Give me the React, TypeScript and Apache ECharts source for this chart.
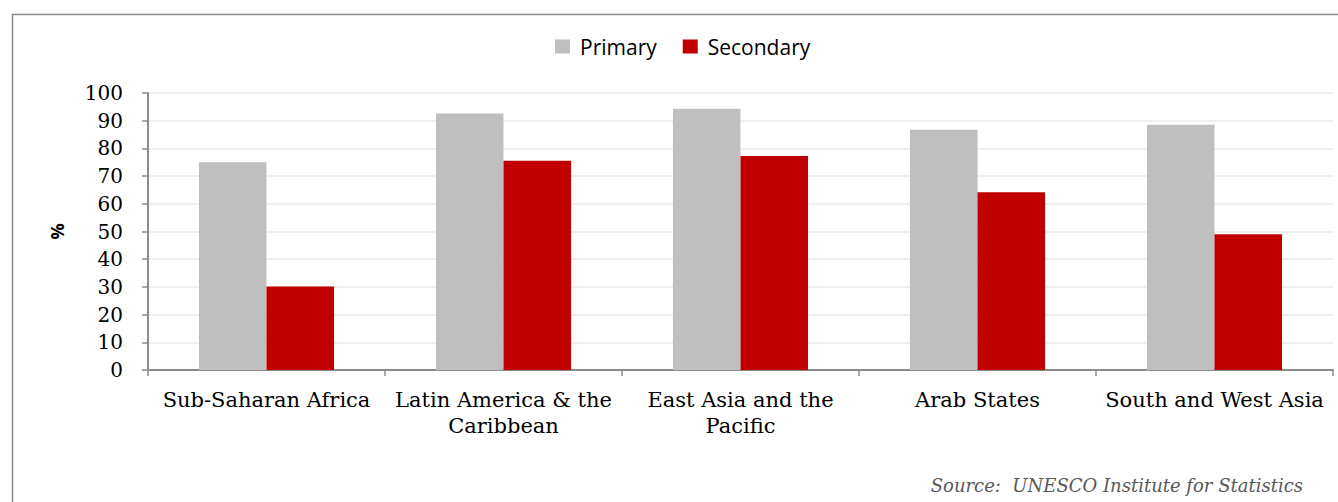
import React, { useEffect, useRef } from "react";
import * as echarts from "echarts";

const regions = [
  "Sub-Saharan Africa",
  "Latin America & the\nCaribbean",
  "East Asia and the\nPacific",
  "Arab States",
  "South and West Asia",
];
const primary = [75, 92.6, 94.3, 86.7, 88.5];
const secondary = [30.1, 75.5, 77.3, 64.2, 49];
const yTicks = [0, 10, 20, 30, 40, 50, 60, 70, 80, 90, 100];
const sourceNote = "Source:  UNESCO Institute for Statistics";

const serif = "'DejaVu Serif', 'Liberation Serif', serif";
const sans = "'Open Sans', 'Noto Sans', sans-serif";

export default function App() {
  const ref = useRef<HTMLDivElement>(null);

  useEffect(() => {
    document.body.style.margin = "0";
    if (!ref.current) return;
    const chart = echarts.init(ref.current, undefined, { renderer: "svg" });
    chart.setOption({
      animation: false,
      backgroundColor: "#ffffff",
      graphic: [
        {
          type: "rect",
          shape: { x: 12.5, y: 14.5, width: 1400, height: 600 },
          style: { fill: "none", stroke: "#8c8c8c", lineWidth: 1.5 },
          silent: true,
        },
        {
          type: "text",
          right: 35,
          top: 476,
          style: {
            text: sourceNote,
            font: `italic 18px ${serif}`,
            fill: "#595959",
          },
        },
      ],
      legend: {
        top: 31,
        left: 550,
        itemWidth: 15,
        itemHeight: 14,
        itemGap: 26,
        icon: "rect",
        textStyle: { fontFamily: sans, fontSize: 21, color: "#000", padding: [0, 0, 0, 5] },
        data: ["Primary", "Secondary"],
      },
      grid: { left: 148, right: 5, top: 93, bottom: 132, containLabel: false },
      xAxis: {
        type: "category",
        data: regions,
        axisLine: { lineStyle: { color: "#8c8c8c", width: 2 } },
        axisTick: { show: true, length: 6, lineStyle: { color: "#8c8c8c", width: 1.5 } },
        axisLabel: {
          interval: 0,
          margin: 17,
          fontFamily: serif,
          fontSize: 21,
          lineHeight: 26,
          color: "#000",
        },
      },
      yAxis: {
        type: "value",
        min: yTicks[0],
        max: yTicks[yTicks.length - 1],
        interval: 10,
        name: "%",
        nameLocation: "middle",
        nameGap: 82,
        nameRotate: 90,
        nameTextStyle: { fontFamily: sans, fontWeight: "bold", fontSize: 18, color: "#000" },
        axisLine: { show: true, lineStyle: { color: "#8c8c8c", width: 2 } },
        axisTick: { show: true, length: 6, lineStyle: { color: "#8c8c8c", width: 1.5 } },
        axisLabel: { fontFamily: serif, fontSize: 20, color: "#000", margin: 25 },
        splitLine: { lineStyle: { color: "#efefef", width: 2 } },
      },
      series: [
        {
          name: "Primary",
          type: "bar",
          data: primary,
          barGap: "0%",
          barCategoryGap: "43%",
          itemStyle: { color: "#bfbfbf" },
        },
        {
          name: "Secondary",
          type: "bar",
          data: secondary,
          itemStyle: { color: "#c00000" },
        },
      ],
    });
    return () => chart.dispose();
  }, []);

  return <div ref={ref} style={{ width: 1338, height: 502 }} />;
}
